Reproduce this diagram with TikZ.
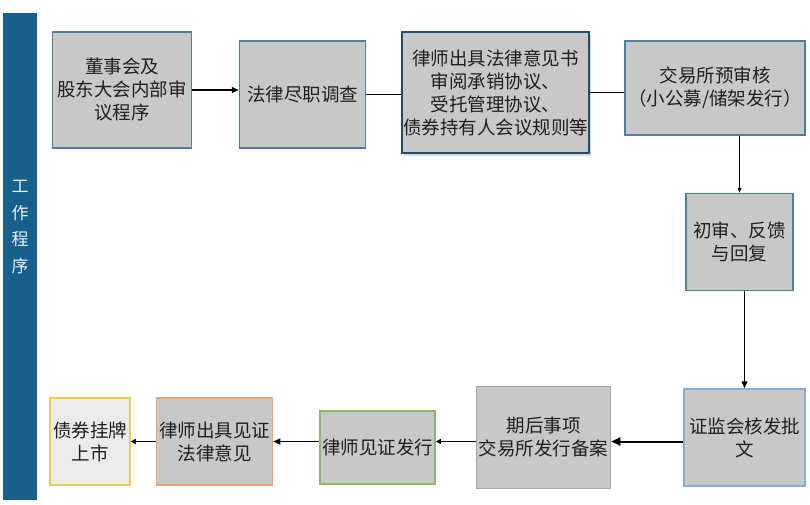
\documentclass[tikz,border=0pt]{standalone}
\usepackage{fontspec}
\setmainfont{Noto Sans CJK SC}
\usetikzlibrary{arrows.meta,positioning,shadows}
\definecolor{barblue}{HTML}{175F8C}
\definecolor{boxgray}{HTML}{C8C8C8}
\definecolor{lightgray}{HTML}{EBEBEB}
\definecolor{edgeblue}{HTML}{4F7F9C}
\definecolor{darkedge}{HTML}{1F4F6E}
\definecolor{skyedge}{HTML}{86AED2}
\definecolor{greyedge}{HTML}{A6A6A6}
\definecolor{greenedge}{HTML}{8DB86A}
\definecolor{orangeedge}{HTML}{E3A77A}
\definecolor{yellowedge}{HTML}{EACB55}

\begin{document}
\begin{tikzpicture}[x=1pt, y=-1pt,
  font=\fontsize{18.5}{23}\selectfont,
  box/.style={draw=edgeblue, line width=1.5pt, fill=boxgray, align=center,
              inner sep=1pt, text=black!88},
  >={Triangle[length=7pt, width=6pt]}, line width=1.3pt]
  \useasboundingbox (0,0) rectangle (810,504);
  % left bar
  \node[fill=barblue, minimum width=34pt, minimum height=487pt, inner sep=0pt] (bar) at (20,256.5) {};
  \node[text=white!92!barblue, align=center, font=\fontsize{17}{26.5}\selectfont] (barlabel) at (20,227) {工\\作\\程\\序};
  % top row
  \node[box, minimum width=139pt, minimum height=116pt] (dong) at (122,90) {董事会及\\股东大会内部审\\议程序};
  \node[box, minimum width=126pt, minimum height=107pt, right=46.5pt of dong, yshift=-4.5pt] (jinzhi) {法律尽职调查};
  \node[box, draw=darkedge, line width=2.5pt, minimum width=182pt, minimum height=121pt,
        right=34.5pt of jinzhi, yshift=2pt,
        drop shadow={shadow xshift=2pt, shadow yshift=-3pt, opacity=0.3}] (yijian)
        {律师出具法律意见书\\审阅承销协议、\\受托管理协议、\\债券持有人会议规则等};
  \node[box, minimum width=180pt, minimum height=94pt, right=34pt of yijian, yshift=4.5pt] (yushen) {交易所预审核\\（小公募/储架发行）};
  % right column
  \node[box, minimum width=107pt, minimum height=97pt, below=57pt of yushen, xshift=24.5pt] (chushen) {初审、反馈\\与回复};
  \node[box, draw=skyedge, minimum width=121pt, minimum height=97pt, below=97pt of chushen, xshift=5pt] (zhengjian) {证监会核发批\\文};
  % bottom row
  \node[box, draw=greyedge, minimum width=134pt, minimum height=102pt, left=72pt of zhengjian] (qihou) {期后事项\\交易所发行备案};
  \node[box, draw=greenedge, minimum width=115pt, minimum height=73pt, left=40pt of qihou, yshift=-10pt] (jianzheng) {律师见证发行};
  \node[box, draw=orangeedge, minimum width=116pt, minimum height=87pt, left=46pt of jianzheng, yshift=6pt] (chuju) {律师出具见证\\法律意见};
  \node[box, draw=yellowedge, fill=lightgray, minimum width=80pt, minimum height=87pt, left=25pt of chuju] (guapai) {债券挂牌\\上市};
  % connectors
  \draw[->] (dong.east) -- (dong.east -| jinzhi.west);
  \draw (jinzhi.east) -- (jinzhi.east -| yijian.west);
  \draw (yijian.east) -- (yijian.east -| yushen.west);
  \draw[->, line width=0.8pt, >={Triangle[length=5pt, width=4pt]}] (yushen.south -| chushen) -- (chushen.north);
  \draw[->] (zhengjian.north |- chushen.south) -- (zhengjian.north);
  \draw[->, line width=2pt, >={Triangle[length=9pt, width=8pt]}] ([yshift=-4pt]zhengjian.west) -- ([yshift=-4pt]qihou.east);
  \draw[->, line width=1pt, >={Triangle[length=5pt, width=5pt]}] ([yshift=-4pt]qihou.west) -- ([yshift=-4pt]qihou.west -| jianzheng.east);
  \draw[<-] (chuju.east) -- (chuju.east -| jianzheng.west);
  \draw[->, >={Triangle[length=5pt, width=5pt]}] (chuju.west) -- (guapai.east);
\end{tikzpicture}
\end{document}
